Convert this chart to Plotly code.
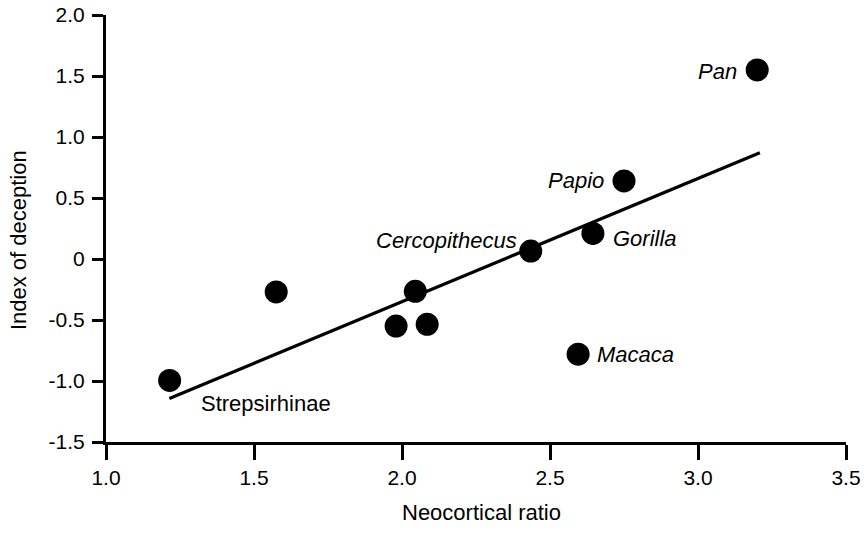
import plotly.graph_objects as go

# Data
species = ["Strepsirhinae", "", "", "", "", "Cercopithecus", "Gorilla", "Papio", "Macaca", "Pan"]
neocortical_ratio = [1.215, 1.575, 2.045, 1.98, 2.085, 2.435, 2.645, 2.75, 2.595, 3.20]
deception_index = [-0.995, -0.27, -0.265, -0.55, -0.535, 0.065, 0.21, 0.64, -0.78, 1.55]

fit_x = [1.214, 3.209]
fit_y = [-1.144, 0.871]

x_tickvals = [1.0, 1.5, 2.0, 2.5, 3.0, 3.5]
x_ticktext = ["1.0", "1.5", "2.0", "2.5", "3.0", "3.5"]
y_tickvals = [2.0, 1.5, 1.0, 0.5, 0.0, -0.5, -1.0, -1.5]
y_ticktext = ["2.0", "1.5", "1.0", "0.5", "0", "-0.5", "-1.0", "-1.5"]

# label placement: (xanchor, xshift, yshift, italic)
label_style = {
    "Strepsirhinae": ("left", 29, -23, False),
    "Cercopithecus": ("right", -12, 11, True),
    "Gorilla": ("left", 18, -5, True),
    "Papio": ("right", -18, 0, True),
    "Macaca": ("left", 17, 0, True),
    "Pan": ("right", -18, -2, True),
}

FONT = "Liberation Sans, Arial, Helvetica, sans-serif"
FS = 21
FS_LABEL = 22

fig = go.Figure()
fig.add_trace(go.Scatter(x=fit_x, y=fit_y, mode="lines",
                         line=dict(color="black", width=3.2), hoverinfo="skip"))
fig.add_trace(go.Scatter(x=neocortical_ratio, y=deception_index, mode="markers",
                         marker=dict(color="black", size=23, line=dict(width=0))))

annotations = []
for name, xv, yv in zip(species, neocortical_ratio, deception_index):
    if not name:
        continue
    xa, xs, ys, it = label_style[name]
    annotations.append(dict(
        x=xv, y=yv, xref="x", yref="y", text=f"<i>{name}</i>" if it else name,
        showarrow=False, xanchor=xa, yanchor="middle", xshift=xs, yshift=ys,
        font=dict(family=FONT, size=FS_LABEL, color="black")))

annotations.append(dict(x=-0.119, y=0.4727, xref="paper", yref="paper",
                        text="Index of deception", textangle=-90, showarrow=False,
                        xanchor="center", yanchor="middle",
                        font=dict(family=FONT, size=FS_LABEL, color="black")))
annotations.append(dict(x=0.5068, y=-0.1648, xref="paper", yref="paper",
                        text="Neocortical ratio", showarrow=False,
                        xanchor="center", yanchor="middle",
                        font=dict(family=FONT, size=FS_LABEL, color="black")))

fig.update_layout(
    width=866, height=534,
    margin=dict(l=106, r=20, t=15, b=92, pad=0, autoexpand=False),
    paper_bgcolor="white", plot_bgcolor="white",
    showlegend=False,
    font=dict(family=FONT, size=FS, color="black"),
    annotations=annotations,
    xaxis=dict(range=[1.0, 3.5], tickvals=x_tickvals, ticktext=x_ticktext,
               showgrid=False, zeroline=False, showline=True, linecolor="black",
               linewidth=3, ticks="outside", ticklen=15, tickwidth=3,
               tickcolor="black", automargin=False,
               tickfont=dict(family=FONT, size=FS, color="black")),
    yaxis=dict(range=[-1.5, 2.0], tickvals=y_tickvals, ticktext=y_ticktext,
               showgrid=False, zeroline=False, showline=True, linecolor="black",
               linewidth=3, ticks="outside", ticklen=11, tickwidth=3,
               tickcolor="black", automargin=False, ticklabelstandoff=3,
               tickfont=dict(family=FONT, size=FS, color="black")),
)

fig.write_html("out.html")
